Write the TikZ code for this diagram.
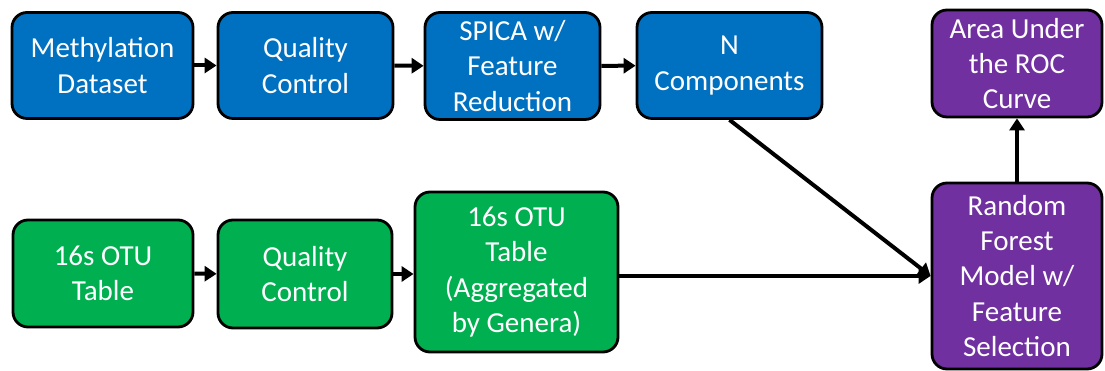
\documentclass[tikz,border=0pt]{standalone}
\usepackage{fontspec}
\setmainfont{Carlito}
\usetikzlibrary{arrows.meta}
\definecolor{methblue}{HTML}{0070C0}
\definecolor{otugreen}{HTML}{00B050}
\definecolor{rfpurple}{HTML}{7030A0}
\tikzset{
    stage/.style = {draw=black, line width=2.8pt, rounded corners=15pt,
        text=white, align=center, inner sep=0pt,
        font=\fontsize{29}{35.3}\selectfont},
    flow/.style = {line width=4pt, -{Triangle[length=12pt,width=15pt]}},
}
\begin{document}
\begin{tikzpicture}[x=1pt, y=1pt]
    \useasboundingbox (0,0) rectangle (1105,371);
    % methylation row
    \node[stage, fill=methblue, minimum width=181pt, minimum height=106pt] (meth) at (102.5,305.5) {Methylation\\Dataset};
    \node[stage, fill=methblue, minimum width=175pt, minimum height=106pt] (qcmeth) at (305.5,305.5) {Quality\\Control};
    \node[stage, fill=methblue, minimum width=175pt, minimum height=107pt] (spica) at (512.5,305) {SPICA w/\\Feature\\Reduction};
    \node[stage, fill=methblue, minimum width=185pt, minimum height=106pt] (ncomp) at (729.5,305.5) {N\\Components};
    % microbiome row
    \node[stage, fill=otugreen, minimum width=180pt, minimum height=107pt] (otu) at (103,97.5) {16s OTU\\Table};
    \node[stage, fill=otugreen, minimum width=174pt, minimum height=108pt] (qcotu) at (305,97) {Quality\\Control};
    \node[stage, fill=otugreen, minimum width=203pt, minimum height=160pt] (genera) at (516.5,99) {16s OTU\\Table\\(Aggregated\\by Genera)};
    % model
    \node[stage, fill=rfpurple, minimum width=170pt, minimum height=186pt] (rf) at (1017,95) {Random\\Forest\\Model w/\\Feature\\Selection};
    \node[stage, fill=rfpurple, minimum width=170pt, minimum height=107pt] (auc) at (1017,307.5) {Area Under\\the ROC\\Curve};
    \draw[flow] (meth) -- (qcmeth);
    \draw[flow] (qcmeth) -- (spica);
    \draw[flow] (spica) -- (ncomp);
    \draw[flow] (otu) -- (qcotu);
    \draw[flow] (qcotu.east) -- (genera.west |- qcotu.east);
    \draw[flow] (genera.east |- rf.west) -- (rf.west);
    \draw[flow] (ncomp.south) -- (rf.west);
    \draw[flow] (rf) -- (auc);
\end{tikzpicture}
\end{document}
